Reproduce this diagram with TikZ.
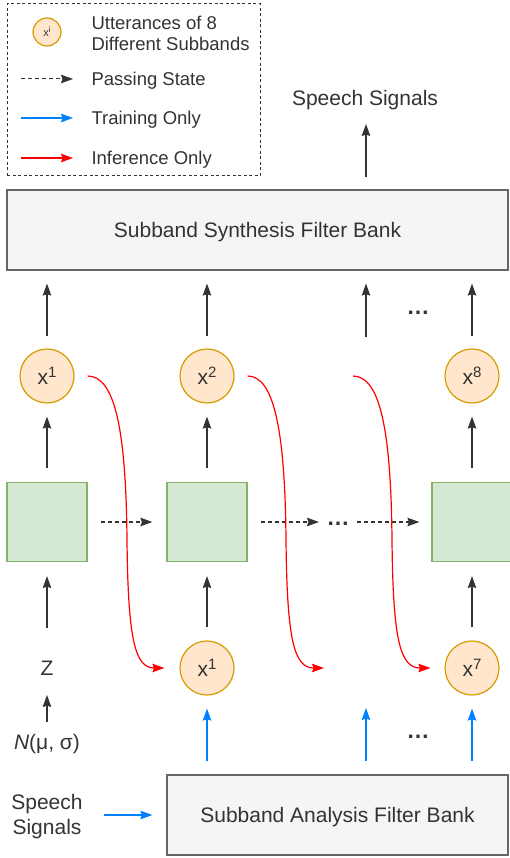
\documentclass[tikz,border=0pt]{standalone}
\usepackage{fontspec}
\setmainfont{Liberation Sans}
\usetikzlibrary{arrows.meta,calc}

\definecolor{ink}{HTML}{333333}
\definecolor{boxfill}{HTML}{F5F5F5}
\definecolor{boxline}{HTML}{666666}
\definecolor{uttfill}{HTML}{FFE6CC}
\definecolor{uttline}{HTML}{D79B00}
\definecolor{netfill}{HTML}{D5E8D4}
\definecolor{netline}{HTML}{82B366}
\definecolor{trainblue}{HTML}{007FFF}
\definecolor{inferred}{HTML}{FF0000}

\newcommand{\utt}[1]{x\raisebox{7pt}{\fontsize{15}{15}\selectfont #1}}

\tikzset{
  every node/.style={font=\fontsize{21}{24}\selectfont, text=ink},
  bank/.style={draw=boxline, fill=boxfill, line width=1.2pt, inner sep=0pt, text depth=0pt},
  utterance/.style={circle, draw=uttline, fill=uttfill, line width=1.2pt,
                    minimum size=54pt, inner sep=0pt},
  netbox/.style={draw=netline, fill=netfill, line width=1.2pt,
                 minimum width=80pt, minimum height=79pt, inner sep=0pt},
  tip/.style={-{Stealth[length=12pt,width=8.5pt,inset=1.5pt]}},
  flow/.style={tip, draw=ink, line width=1.2pt},
  passing/.style={flow, dashed, dash pattern=on 4pt off 3pt},
  training/.style={tip, draw=trainblue, line width=1.2pt},
  inference/.style={tip, draw=inferred, line width=1.2pt},
  legendtext/.style={font=\fontsize{18.5}{21}\selectfont, anchor=west, align=left},
  label/.style={text depth=0pt},
  dots/.style={font=\fontsize{23}{24}\selectfont\bfseries}
}

\begin{document}
\begin{tikzpicture}[x=1pt,y=-1pt]
\useasboundingbox (0,0) rectangle (509,858);

% ---------- legend ----------
\node[draw=ink, dashed, dash pattern=on 3pt off 2.5pt, line width=1pt,
      minimum width=253pt, minimum height=172pt, inner sep=0pt]
      (legend) at (133.5,90) {};
\node[utterance, minimum size=28pt, font=\fontsize{11}{11}\selectfont] (legutt) at (47,32)
      {x\raisebox{4pt}{\fontsize{8}{8}\selectfont i}};
\node[legendtext] (legutttext) at (88,33) {Utterances of 8\\Different Subbands};
\coordinate (lp0) at (21,79);  \coordinate (lp1) at (73,79);
\coordinate (lt0) at (21,118); \coordinate (lt1) at (73,118);
\coordinate (li0) at (21,158); \coordinate (li1) at (73,158);
\draw[passing, line width=1pt] (lp0) -- (lp1);
\draw[training] (lt0) -- (lt1);
\draw[inference] (li0) -- (li1);
\node[legendtext, label] (legpass) at (88,79) {Passing State};
\node[legendtext, label] (legtrain) at (88,118) {Training Only};
\node[legendtext, label] (leginfer) at (88,158) {Inference Only};

% ---------- synthesis side ----------
\node[label] (speechout) at (365,98) {Speech Signals};
\node[bank, minimum width=501pt, minimum height=80pt] (synth) at (257.5,230)
      {Subband Synthesis Filter Bank};
\coordinate (synthtop) at (366,190);
\coordinate (outfoot) at (366,124);
\draw[flow, shorten <=13pt] (synthtop) -- (outfoot);

% upper row of generated subbands
\node[utterance] (t1) at (47,376) {\utt{1}};
\node[utterance] (t2) at (207,376) {\utt{2}};
\node[utterance] (t8) at (472,376) {\utt{8}};
\coordinate (t3) at (366,376);
\node[dots] (topdots) at (418,313) {…};

\draw[flow, shorten <=12pt, shorten >=13pt] (t1.north) -- (t1.north |- synth.south);
\draw[flow, shorten <=12pt, shorten >=13pt] (t2.north) -- (t2.north |- synth.south);
\draw[flow, shorten <=39pt, shorten >=13pt] (t3) -- (t3 |- synth.south);
\draw[flow, shorten <=12pt, shorten >=13pt] (t8.north) -- (t8.north |- synth.south);

% ---------- flow network blocks ----------
\node[netbox] (s1) at (47,522) {};
\node[netbox] (s2) at (207,522) {};
\node[netbox] (s8) at (472,522) {};
\node[dots] (middots) at (338,524) {…};

\draw[flow, shorten <=14pt, shorten >=13pt] (s1.north) -- (t1.south);
\draw[flow, shorten <=14pt, shorten >=13pt] (s2.north) -- (t2.south);
\draw[flow, shorten <=14pt, shorten >=13pt] (s8.north) -- (t8.south);

\draw[passing, shorten <=13pt, shorten >=14pt] (s1.east) -- (s2.west);
\draw[passing, shorten <=13pt, shorten >=4pt] (s2.east) -- (middots.west |- s2.east);
\draw[passing, shorten <=4pt, shorten >=12pt] (middots.east |- s8.west) -- (s8.west);

% ---------- inputs ----------
\node (z) at (47,668) {Z};
\node[label] (noise) at (47,742) {\textit{N}(μ, σ)};
\node[utterance] (b1) at (207,668) {\utt{1}};
\node[utterance] (b7) at (472,668) {\utt{7}};
\coordinate (b3) at (366,668);
\coordinate (b3in) at (339,668);
\coordinate (g3) at (340,376);
\coordinate (ztail) at (47,628);
\coordinate (ntail) at (47,722);
\coordinate (nhead) at (47,695);

\draw[flow, shorten >=14pt] (ztail) -- (s1.south);
\draw[flow, shorten <=13pt, shorten >=14pt] (b1.north) -- (s2.south);
\draw[flow, shorten <=13pt, shorten >=14pt] (b7.north) -- (s8.south);
\draw[flow] (ntail) -- (nhead);

% ---------- analysis side ----------
\node[bank, minimum width=341pt, minimum height=80pt] (anal) at (337.5,815)
      {Subband Analysis Filter Bank};
\node[align=center, font=\fontsize{21}{25}\selectfont] (speechin) at (47,817) {Speech\\Signals};
\node[dots] (botdots) at (418,737) {…};

\draw[training, shorten <=13pt, shorten >=13pt] (anal.north -| b1) -- (b1.south);
\draw[training, shorten <=13pt, shorten >=40pt] (anal.north -| b3) -- (b3);
\draw[training, shorten <=13pt, shorten >=13pt] (anal.north -| b7) -- (b7.south);
\draw[training, shorten <=18pt, shorten >=14pt] (speechin.east |- anal.west) -- (anal.west);

% ---------- inference feedback curves ----------
\draw[inference, shorten <=13pt, shorten >=15pt]
  (t1.east) .. controls (115,376) and (126,430) .. (127,540)
            .. controls (128,640) and (135,668) .. (b1.west);
\draw[inference, shorten <=13pt, shorten >=15pt]
  (t2.east) .. controls (274,376) and (285,430) .. (286,540)
            .. controls (287,640) and (294,668) .. (b3in);
\draw[inference, shorten <=13pt, shorten >=14pt]
  (g3) .. controls (380,376) and (391,430) .. (392,540)
       .. controls (393,640) and (400,668) .. (b7.west);
\end{tikzpicture}
\end{document}
